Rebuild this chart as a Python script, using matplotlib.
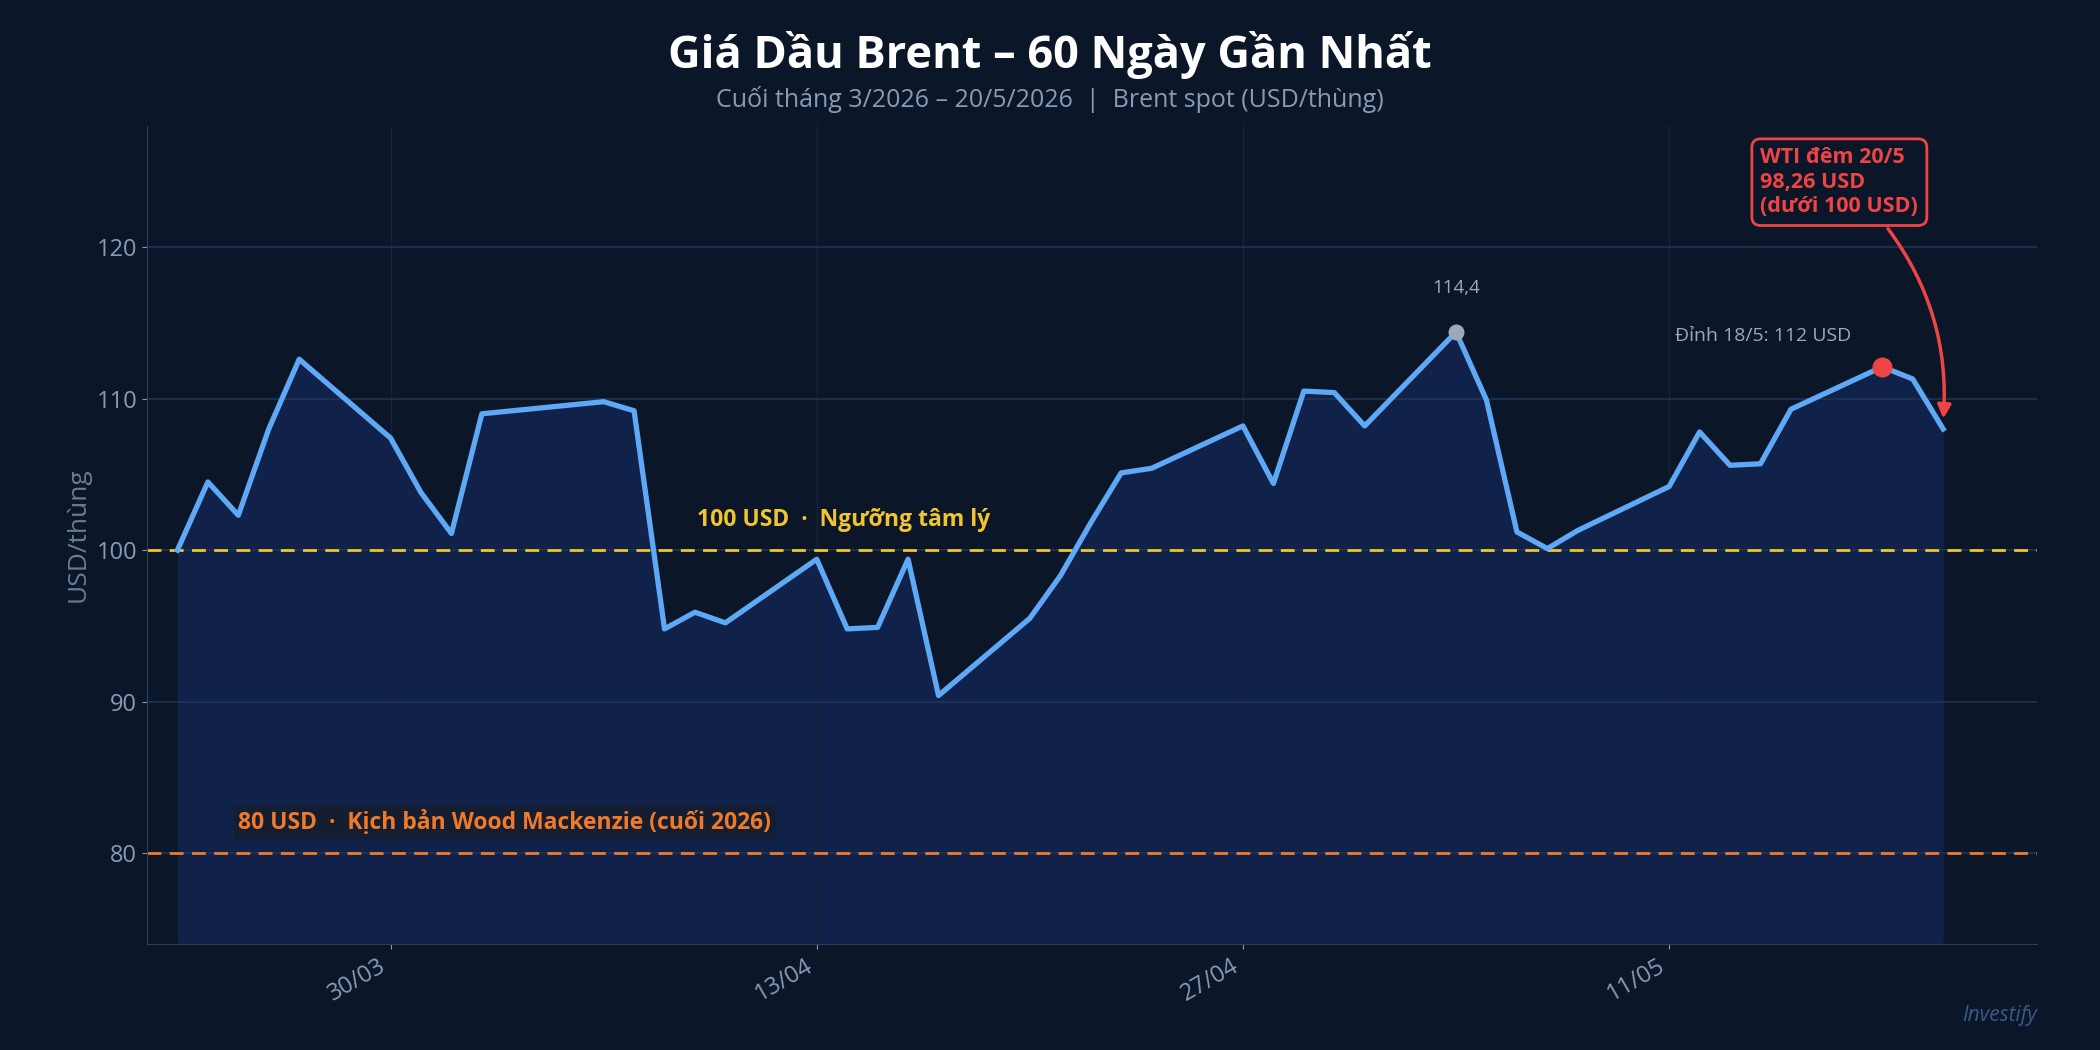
import matplotlib
matplotlib.use("Agg")
import matplotlib.pyplot as plt
import matplotlib.dates as mdates
import pandas as pd
import numpy as np

plt.rcParams['font.family'] = ['Open Sans', 'Noto Sans', 'DejaVu Sans']

dates = ["2026-03-23","2026-03-24","2026-03-25","2026-03-26","2026-03-27",
         "2026-03-30","2026-03-31","2026-04-01","2026-04-02",
         "2026-04-06","2026-04-07","2026-04-08","2026-04-09","2026-04-10",
         "2026-04-13","2026-04-14","2026-04-15","2026-04-16","2026-04-17",
         "2026-04-20","2026-04-21","2026-04-22","2026-04-23","2026-04-24",
         "2026-04-27","2026-04-28","2026-04-29","2026-04-30","2026-05-01",
         "2026-05-04","2026-05-05","2026-05-06","2026-05-07","2026-05-08",
         "2026-05-11","2026-05-12","2026-05-13","2026-05-14","2026-05-15",
         "2026-05-18","2026-05-19","2026-05-20"]
prices = [100.0,104.5,102.3,108.0,112.6,
          107.4,103.8,101.1,109.0,
          109.8,109.2,94.8,95.9,95.2,
          99.4,94.8,94.9,99.4,90.4,
          95.5,98.3,101.8,105.1,105.4,
          108.2,104.4,110.5,110.4,108.2,
          114.4,109.9,101.2,100.1,101.3,
          104.2,107.8,105.6,105.7,109.3,
          112.1,111.3,108.0]
tick_dates = ["2026-03-30","2026-04-13","2026-04-27","2026-05-11"]

x = pd.to_datetime(dates)
bg = "#0b1628"
fig = plt.figure(figsize=(21, 10.5), dpi=100, facecolor=bg)
ax = fig.add_axes([0.070, 0.101, 0.900, 0.779], facecolor=bg)

ax.fill_between(x, prices, 74, color="#1a3a8a", alpha=0.35, lw=0)
ax.plot(x, prices, color="#5ea8f5", lw=3.8, zorder=3)

ax.axhline(100, color="#f0c530", ls="--", lw=2, dashes=(5, 3))
ax.axhline(80, color="#f07a28", ls="--", lw=2, dashes=(5, 3))

ax.set_ylim(74, 128)
ax.set_xlim(pd.Timestamp("2026-03-22"), pd.Timestamp("2026-05-23 02:00"))
ax.set_yticks([80, 90, 100, 110, 120])
ax.set_xticks(pd.to_datetime(tick_dates))
ax.xaxis.set_major_formatter(mdates.DateFormatter("%d/%m"))
plt.setp(ax.get_xticklabels(), rotation=30, ha="right")
ax.tick_params(colors="#8a9ab5", labelsize=17)
ax.grid(axis="y", color="#1d3556", lw=1.2)
ax.grid(axis="x", color="#16243a", lw=1)
for s in ["top", "right"]:
    ax.spines[s].set_visible(False)
for s in ["left", "bottom"]:
    ax.spines[s].set_color("#2c3e5a")
ax.set_ylabel("USD/thùng", color="#6b7a95", fontsize=19)

imax = int(np.argmax(prices))
ax.scatter([x[imax]], [prices[imax]], s=110, color="#a0a8b8", zorder=4)
ax.annotate(f"{prices[imax]:.1f}".replace(".", ","), (x[imax], prices[imax]),
            xytext=(0, 28), textcoords="offset points", ha="center",
            color="#a0a8b8", fontsize=13.5)
ax.scatter([x[-3]], [prices[-3]], s=180, color="#ef4444", zorder=4)
ax.text(pd.Timestamp("2026-05-14 02:00"), 113.8, "Đỉnh 18/5: 112 USD", ha="center",
        color="#a0a8b8", fontsize=14)

ax.text(pd.Timestamp("2026-04-13 21:00"), 101.6, "100 USD  ·  Ngưỡng tâm lý",
        ha="center", color="#f0c530", fontsize=16.5, fontweight="bold")
ax.text(pd.Timestamp("2026-03-25"), 81.6, "80 USD  ·  Kịch bản Wood Mackenzie (cuối 2026)",
        ha="left", color="#f07a28", fontsize=16.5, fontweight="bold",
        bbox=dict(boxstyle="round,pad=0.2", fc="#1a1a1a", ec="none", alpha=0.5))

ax.annotate("WTI đêm 20/5\n98,26 USD\n(dưới 100 USD)", xy=(x[-1], 108.5),
            xytext=(pd.Timestamp("2026-05-14 00:00"), 122.0), textcoords="data",
            ha="left", va="bottom", color="#ef4444", fontsize=15.5, fontweight="bold",
            bbox=dict(boxstyle="round,pad=0.4", fc=bg, ec="#ef4444", lw=2),
            arrowprops=dict(arrowstyle="-|>", color="#ef4444", lw=2.5,
                            connectionstyle="arc3,rad=-0.2", mutation_scale=20,
                            relpos=(0.75, 0)))

fig.text(0.5, 0.948, "Giá Dầu Brent – 60 Ngày Gần Nhất", ha="center", va="center",
         color="white", fontsize=32.5, fontweight="bold")
fig.text(0.5, 0.905, "Cuối tháng 3/2026 – 20/5/2026  |  Brent spot (USD/thùng)",
         ha="center", va="center", color="#8a9ab5", fontsize=18)
fig.text(0.97, 0.028, "Investify", ha="right", color="#3a5a8a", fontsize=15, style="italic")

fig.savefig("out.png", dpi=100, facecolor=bg)
